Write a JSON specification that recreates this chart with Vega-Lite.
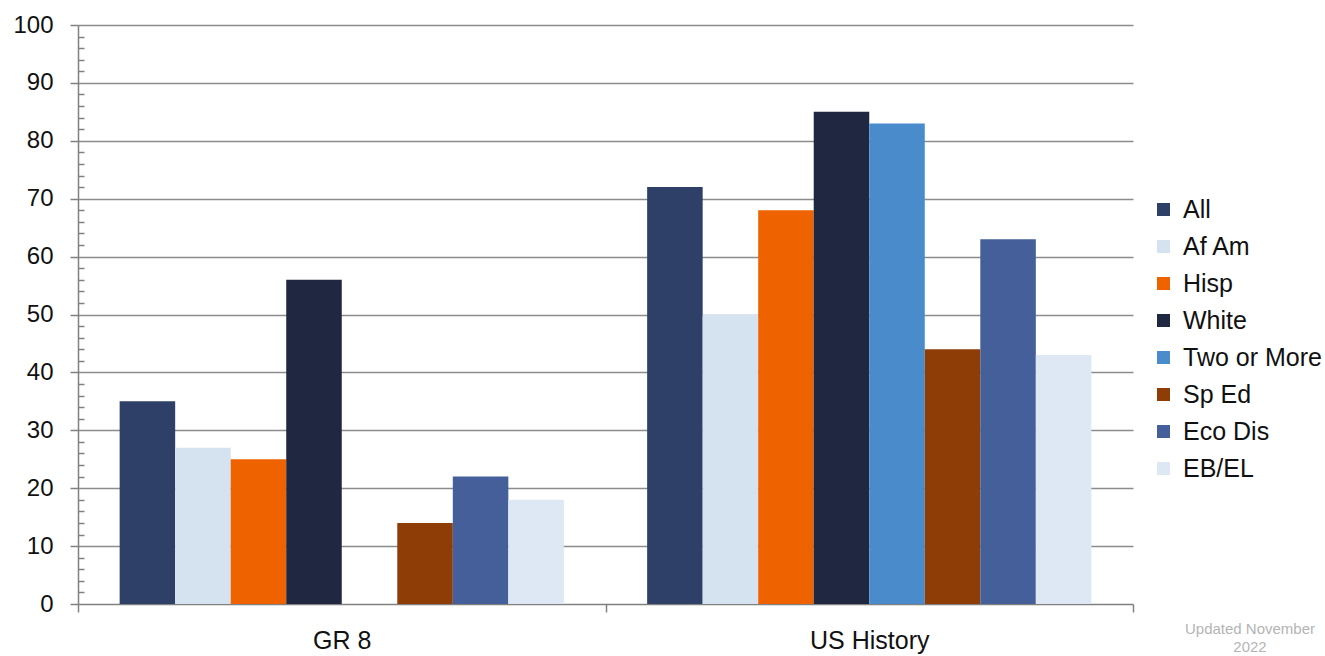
{
  "$schema": "https://vega.github.io/schema/vega-lite/v6.json",
  "autosize": {"type": "none"},
  "padding": {"left": 78, "top": 25, "right": 192, "bottom": 52},
  "width": 1055,
  "height": 579,
  "background": "white",
  "title": {
    "text": ["Updated November", "2022"],
    "orient": "bottom",
    "anchor": "end",
    "frame": "group",
    "align": "center",
    "dx": 117,
    "dy": -35,
    "fontSize": 15,
    "font": "Liberation Sans",
    "fontWeight": "normal",
    "color": "#b4b4b4",
    "lineHeight": 18
  },
  "data": {
    "values": [
      {"test": "GR 8", "group": "All", "value": 35},
      {"test": "GR 8", "group": "Af Am", "value": 27},
      {"test": "GR 8", "group": "Hisp", "value": 25},
      {"test": "GR 8", "group": "White", "value": 56},
      {"test": "GR 8", "group": "Sp Ed", "value": 14},
      {"test": "GR 8", "group": "Eco Dis", "value": 22},
      {"test": "GR 8", "group": "EB/EL", "value": 18},
      {"test": "US History", "group": "All", "value": 72},
      {"test": "US History", "group": "Af Am", "value": 50},
      {"test": "US History", "group": "Hisp", "value": 68},
      {"test": "US History", "group": "White", "value": 85},
      {"test": "US History", "group": "Two or More", "value": 83},
      {"test": "US History", "group": "Sp Ed", "value": 44},
      {"test": "US History", "group": "Eco Dis", "value": 63},
      {"test": "US History", "group": "EB/EL", "value": 43}
    ]
  },
  "mark": {"type": "bar"},
  "encoding": {
    "x": {
      "field": "test",
      "type": "nominal",
      "sort": ["GR 8", "US History"],
      "scale": {"paddingInner": 0, "paddingOuter": 0},
      "axis": {
        "title": null,
        "labelAngle": 0,
        "labelFont": "Liberation Sans",
        "labelFontSize": 25,
        "labelColor": "#111111",
        "labelPadding": 16,
        "tickBand": "extent",
        "tickSize": 8,
        "tickColor": "#808080",
        "tickWidth": 1.5,
        "domainColor": "#808080",
        "domainWidth": 1.5,
        "grid": false
      }
    },
    "xOffset": {
      "field": "group",
      "type": "nominal",
      "scale": {
        "domain": ["All", "Af Am", "Hisp", "White", "Two or More", "Sp Ed", "Eco Dis", "EB/EL"],
        "paddingInner": 0,
        "paddingOuter": 0.75
      }
    },
    "y": {
      "field": "value",
      "type": "quantitative",
      "scale": {"domain": [0, 100], "nice": false},
      "axis": {
        "title": null,
        "values": [0,2,4,6,8,10,12,14,16,18,20,22,24,26,28,30,32,34,36,38,40,42,44,46,48,50,52,54,56,58,60,62,64,66,68,70,72,74,76,78,80,82,84,86,88,90,92,94,96,98,100],
        "labelExpr": "datum.value % 10 === 0 ? datum.label : ''",
        "labelFont": "Liberation Sans",
        "labelFontSize": 24,
        "labelColor": "#111111",
        "labelPadding": 17,
        "tickSize": {"condition": {"test": "datum.value % 10 === 0", "value": 8}, "value": -6},
        "tickColor": "#808080",
        "tickWidth": 1.5,
        "domainColor": "#808080",
        "domainWidth": 1.5,
        "grid": true,
        "gridColor": "#8c8c8c",
        "gridWidth": 1.5,
        "gridOpacity": {"condition": {"test": "datum.value % 10 === 0 && datum.value > 0", "value": 1}, "value": 0}
      }
    },
    "color": {
      "field": "group",
      "type": "nominal",
      "scale": {
        "domain": ["All", "Af Am", "Hisp", "White", "Two or More", "Sp Ed", "Eco Dis", "EB/EL"],
        "range": ["#2e4068", "#d5e3f1", "#ee6200", "#1f2840", "#4a8ccb", "#8f3d06", "#445f99", "#dde8f4"]
      },
      "legend": {
        "title": null,
        "orient": "none",
        "legendX": 1073,
        "legendY": 172,
        "symbolType": "square",
        "symbolSize": 169,
        "symbolStrokeWidth": 0,
        "labelFont": "Liberation Sans",
        "labelFontSize": 25,
        "labelColor": "#111111",
        "labelOffset": 7,
        "rowPadding": 11,
        "labelLimit": 300
      }
    }
  },
  "config": {
    "view": {"stroke": null},
    "bar": {"stroke": null}
  }
}
